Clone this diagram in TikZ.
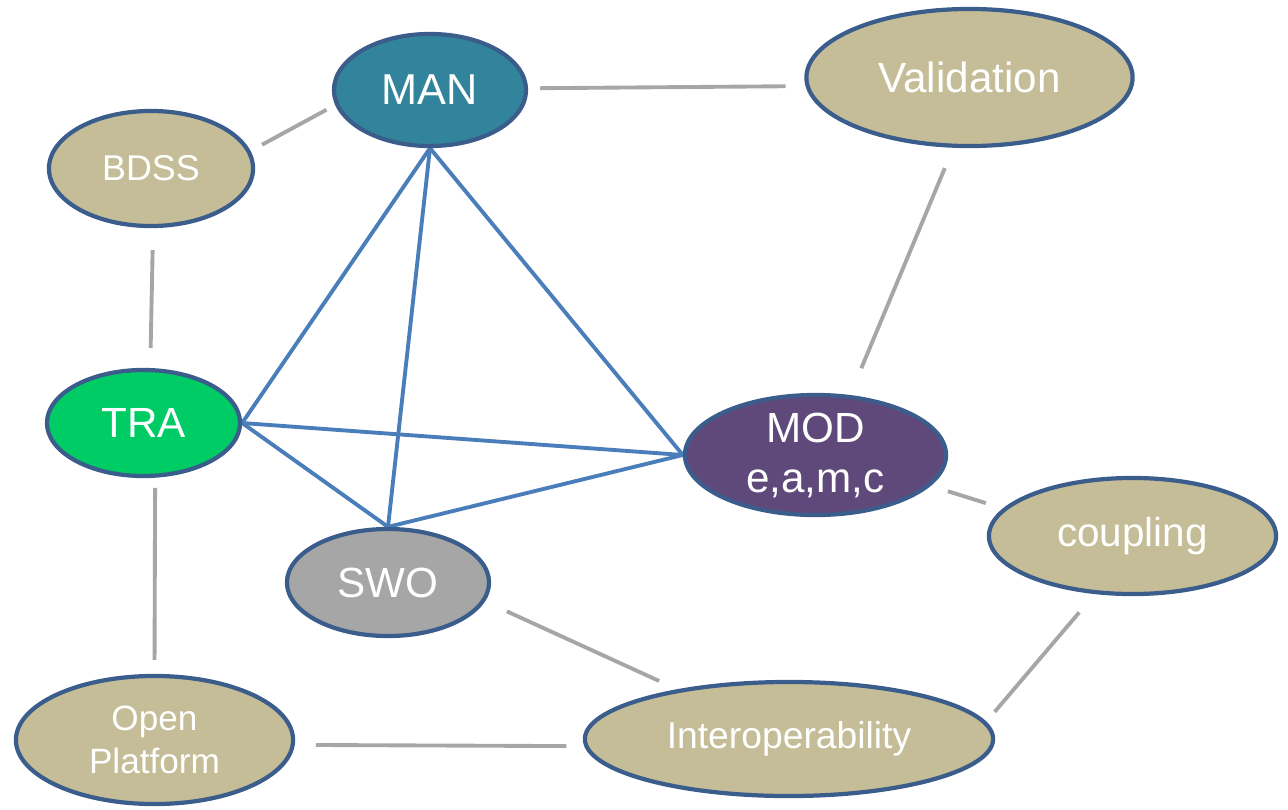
\documentclass[tikz,border=0pt]{standalone}
\usepackage{fontspec}
\setmainfont{Liberation Sans}
\usetikzlibrary{shapes.geometric,backgrounds}
\definecolor{tan}{RGB}{196,189,151}
\definecolor{bord}{RGB}{58,93,140}
\definecolor{manc}{RGB}{49,132,155}
\definecolor{trac}{RGB}{0,204,102}
\definecolor{modc}{RGB}{95,73,122}
\definecolor{swoc}{RGB}{166,166,166}
\definecolor{blueline}{RGB}{74,126,187}
\definecolor{grayline}{RGB}{166,166,166}
\tikzset{
  ell/.style={ellipse, draw=bord, line width=1.2pt, inner sep=0pt, text=white, align=center},
  tanell/.style={ell, fill=tan},
  glink/.style={draw=grayline, line width=1.1pt},
  blink/.style={draw=blueline, line width=1.1pt},
}
\begin{document}
\begin{tikzpicture}[x=0.01cm,y=-0.01cm]
\useasboundingbox (0,0) rectangle (1288,809);
% nodes
\node[ell, fill=manc, minimum width=1.92cm, minimum height=1.12cm, font=\fontsize{12.3}{14}\selectfont] (MAN) at (430,90) {MAN};
\node[tanell, minimum width=3.26cm, minimum height=1.37cm, font=\fontsize{12}{14}\selectfont] (VAL) at (969.5,77.5) {Validation};
\node[tanell, minimum width=2.04cm, minimum height=1.15cm, font=\fontsize{10.2}{12}\selectfont] (BDSS) at (151,168.5) {BDSS};
\node[ell, fill=trac, minimum width=1.93cm, minimum height=1.06cm, font=\fontsize{12}{14}\selectfont] (TRA) at (143.5,423) {TRA};
\node[ell, fill=modc, minimum width=2.61cm, minimum height=1.20cm, font=\fontsize{12}{14.2}\selectfont] (MOD) at (815.5,455) {MOD\\e,a,m,c};
\node[tanell, minimum width=2.87cm, minimum height=1.16cm, font=\fontsize{11.5}{13}\selectfont] (CPL) at (1132.5,536) {coupling};
\node[ell, fill=swoc, minimum width=2.02cm, minimum height=1.07cm, font=\fontsize{12}{14}\selectfont] (SWO) at (388,582.5) {SWO};
\node[tanell, minimum width=2.77cm, minimum height=1.28cm, font=\fontsize{10}{12.2}\selectfont] (OPF) at (154.5,740) {Open\\Platform};
\node[tanell, minimum width=4.08cm, minimum height=1.14cm, font=\fontsize{10.6}{12}\selectfont] (INT) at (789,739) {Interoperability};
% connectors
\begin{scope}[on background layer]
\draw[blink] (MAN.south) -- (TRA.east);
\draw[blink] (MAN.south) -- (SWO.north);
\draw[blink] (MAN.south) -- (MOD.west);
\draw[blink] (TRA.east) -- (MOD.west);
\draw[blink] (TRA.east) -- (SWO.north);
\draw[blink] (SWO.north) -- (MOD.west);
\end{scope}
\draw[glink, shorten <=0.12cm, shorten >=0.20cm] (MAN.1) -- (VAL.183.7);
\draw[glink, shorten <=0.13cm, shorten >=0.10cm] (BDSS.10) -- (MAN.189);
\draw[glink, shorten <=0.22cm, shorten >=0.20cm] (BDSS.-88) -- (TRA.83);
\draw[glink, shorten <=0.22cm, shorten >=0.29cm] (VAL.257) -- (MOD.60);
\draw[glink, shorten <=0.18cm, shorten >=0.18cm] (MOD.-15) -- (CPL.168);
\draw[glink, shorten <=0.10cm, shorten >=0.14cm] (TRA.-78) -- (OPF.90);
\draw[glink, shorten <=0.24cm, shorten >=0.20cm] (SWO.-11) -- (INT.156);
\draw[glink, shorten <=0.21cm, shorten >=0.18cm] (OPF.-2.5) -- (INT.182);
\draw[glink, shorten <=0.24cm, shorten >=0.13cm] (CPL.237) -- (INT.5);
\end{tikzpicture}
\end{document}
